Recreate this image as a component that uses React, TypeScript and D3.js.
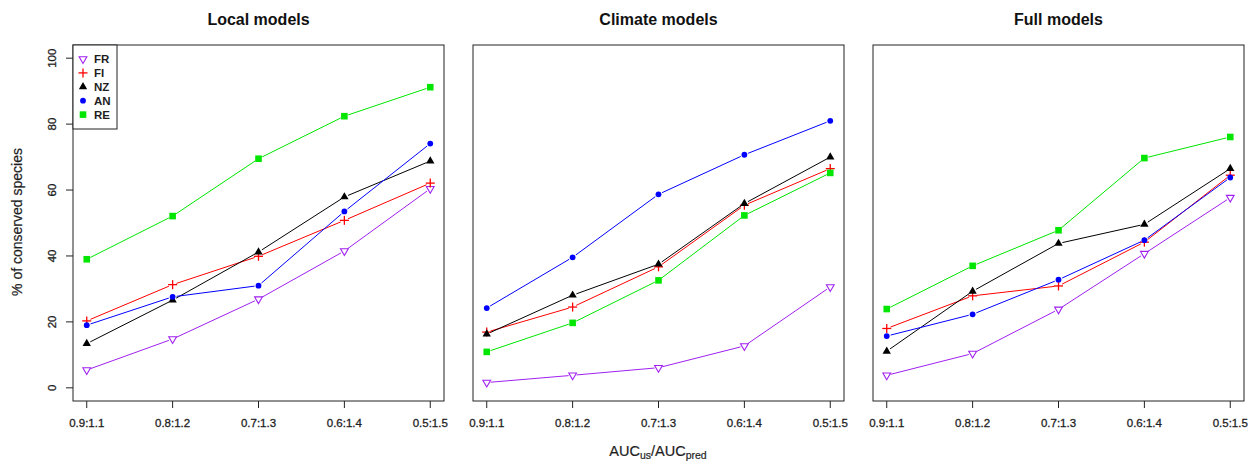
import React from 'react';
import * as d3 from 'd3';

// Threshold pairs on the x axis
const categories = ['0.9:1.1', '0.8:1.2', '0.7:1.3', '0.6:1.4', '0.5:1.5'];
const panelTitles = ['Local models', 'Climate models', 'Full models'];
const seriesNames = ['FR', 'FI', 'NZ', 'AN', 'RE'];
const yTicks = [0, 20, 40, 60, 80, 100];

// % of conserved species, Local models
const localFR = [5.4, 14.8, 26.9, 41.5, 60.4];
const localFI = [20.3, 31.3, 39.9, 50.8, 62.1];
const localNZ = [13.4, 26.6, 41.2, 57.9, 68.8];
const localAN = [19.0, 27.6, 31.0, 53.5, 74.1];
const localRE = [39.0, 52.1, 69.5, 82.4, 91.2];

// Climate models
const climateFR = [1.6, 3.8, 6.1, 12.7, 30.6];
const climateFI = [16.9, 24.5, 36.7, 55.4, 66.5];
const climateNZ = [16.3, 28.1, 37.5, 55.9, 70.0];
const climateAN = [24.2, 39.6, 58.7, 70.7, 81.0];
const climateRE = [10.9, 19.7, 32.6, 52.3, 65.2];

// Full models
const fullFR = [3.8, 10.4, 23.8, 40.7, 57.7];
const fullFI = [18.0, 27.9, 30.9, 44.2, 64.5];
const fullNZ = [11.1, 29.3, 43.8, 49.6, 66.5];
const fullAN = [15.7, 22.3, 32.8, 44.8, 63.8];
const fullRE = [23.9, 37.0, 47.8, 69.7, 76.1];

const panelData = [
  [localFR, localFI, localNZ, localAN, localRE],
  [climateFR, climateFI, climateNZ, climateAN, climateRE],
  [fullFR, fullFI, fullNZ, fullAN, fullRE],
];

const colors = ['#A020F0', '#FF0000', '#000000', '#0000FF', '#00E600'];

const FONT = '"Liberation Sans", Arial, Helvetica, sans-serif';
const W = 1256;
const H = 466;
const panelLefts = [73, 473, 873];
const panelWidth = 371;
const top = 45;
const bottom = 401;
const GAP = 4;
const INK = '#1e1e1e';

const y = d3.scaleLinear().domain([-4, 104]).range([bottom, top]);

function Marker({ kind, cx, cy, color }: { kind: number; cx: number; cy: number; color: string }) {
  const t = `translate(${cx},${cy})`;
  if (kind === 0) {
    const d = d3.symbol(d3.symbolTriangle, 26)() as string;
    return <path d={d} transform={`${t} rotate(180)`} fill="none" stroke={color} strokeWidth={1.1} />;
  }
  if (kind === 1) {
    return (
      <g transform={t} stroke={color} strokeWidth={1.3}>
        <line x1={-4.5} x2={4.5} y1={0} y2={0} />
        <line x1={0} x2={0} y1={-4.5} y2={4.5} />
      </g>
    );
  }
  if (kind === 2) {
    const d = d3.symbol(d3.symbolTriangle, 30)() as string;
    return <path d={d} transform={t} fill={color} />;
  }
  if (kind === 3) {
    return <circle cx={cx} cy={cy} r={2.9} fill={color} />;
  }
  return <rect x={cx - 3.3} y={cy - 3.3} width={6.6} height={6.6} fill={color} />;
}

function Panel({ idx }: { idx: number }) {
  const left = panelLefts[idx];
  const right = left + panelWidth;
  const x = d3.scaleLinear().domain([-0.16, 4.16]).range([left, right]);
  const data = panelData[idx];
  const cx = (left + right) / 2;
  return (
    <g>
      <text x={cx} y={25} textAnchor="middle" fontSize={16} fontWeight="bold" fill="#111">
        {panelTitles[idx]}
      </text>
      {data.map((vals, si) => {
        const pts = vals.map((v, i) => [x(i), y(v)] as [number, number]);
        const segs = pts.slice(1).map((p, i) => {
          const a = pts[i];
          const dx = p[0] - a[0];
          const dy = p[1] - a[1];
          const len = Math.hypot(dx, dy);
          if (len <= 2 * GAP) return null;
          const ux = dx / len;
          const uy = dy / len;
          return (
            <line
              key={i}
              x1={a[0] + ux * GAP}
              y1={a[1] + uy * GAP}
              x2={p[0] - ux * GAP}
              y2={p[1] - uy * GAP}
              stroke={colors[si]}
              strokeWidth={1}
            />
          );
        });
        return (
          <g key={si}>
            {segs}
            {pts.map((p, i) => (
              <Marker key={i} kind={si} cx={p[0]} cy={p[1]} color={colors[si]} />
            ))}
          </g>
        );
      })}
      <rect x={left} y={top} width={panelWidth} height={bottom - top} fill="none" stroke="#222" strokeWidth={1} />
      {categories.map((c, i) => (
        <g key={c}>
          <line x1={x(i)} x2={x(i)} y1={bottom} y2={bottom + 7} stroke="#222" />
          <text x={x(i)} y={427} textAnchor="middle" fontSize={11.5} fill={INK} stroke={INK} strokeWidth={0.3}>
            {c}
          </text>
        </g>
      ))}
      {idx === 0 &&
        yTicks.map((t) => (
          <g key={t}>
            <line x1={left - 7} x2={left} y1={y(t)} y2={y(t)} stroke="#222" />
            <text
              transform={`translate(56,${y(t)}) rotate(-90)`}
              textAnchor="middle"
              fontSize={11.5}
              fill={INK}
              stroke={INK}
              strokeWidth={0.3}
            >
              {t}
            </text>
          </g>
        ))}
      {idx === 0 && (
        <g>
          <rect x={left} y={top} width={44} height={84} fill="white" stroke="#222" strokeWidth={1} />
          {seriesNames.map((n, si) => {
            const ly = 59 + si * 13.9;
            return (
              <g key={n}>
                <Marker kind={si} cx={83} cy={ly} color={colors[si]} />
                <text x={94} y={ly + 4} fontSize={11.5} fontWeight="bold" fill={INK}>
                  {n}
                </text>
              </g>
            );
          })}
        </g>
      )}
    </g>
  );
}

export default function App() {
  return (
    <svg
      width={W}
      height={H}
      style={{ position: 'absolute', left: 0, top: 0, background: 'white', fontFamily: FONT }}
    >
      <rect width={W} height={H} fill="white" />
      {[0, 1, 2].map((i) => (
        <Panel key={i} idx={i} />
      ))}
      <text
        transform={`translate(22,222) rotate(-90)`}
        textAnchor="middle"
        fontSize={14}
        fill={INK}
        stroke={INK}
        strokeWidth={0.2}
      >
        % of conserved species
      </text>
      <text x={658} y={456} textAnchor="middle" fontSize={14.5} fill={INK} stroke={INK} strokeWidth={0.2}>
        AUC
        <tspan fontSize={10.5} dy={3}>us</tspan>
        <tspan dy={-3}>/AUC</tspan>
        <tspan fontSize={10.5} dy={3}>pred</tspan>
      </text>
    </svg>
  );
}
